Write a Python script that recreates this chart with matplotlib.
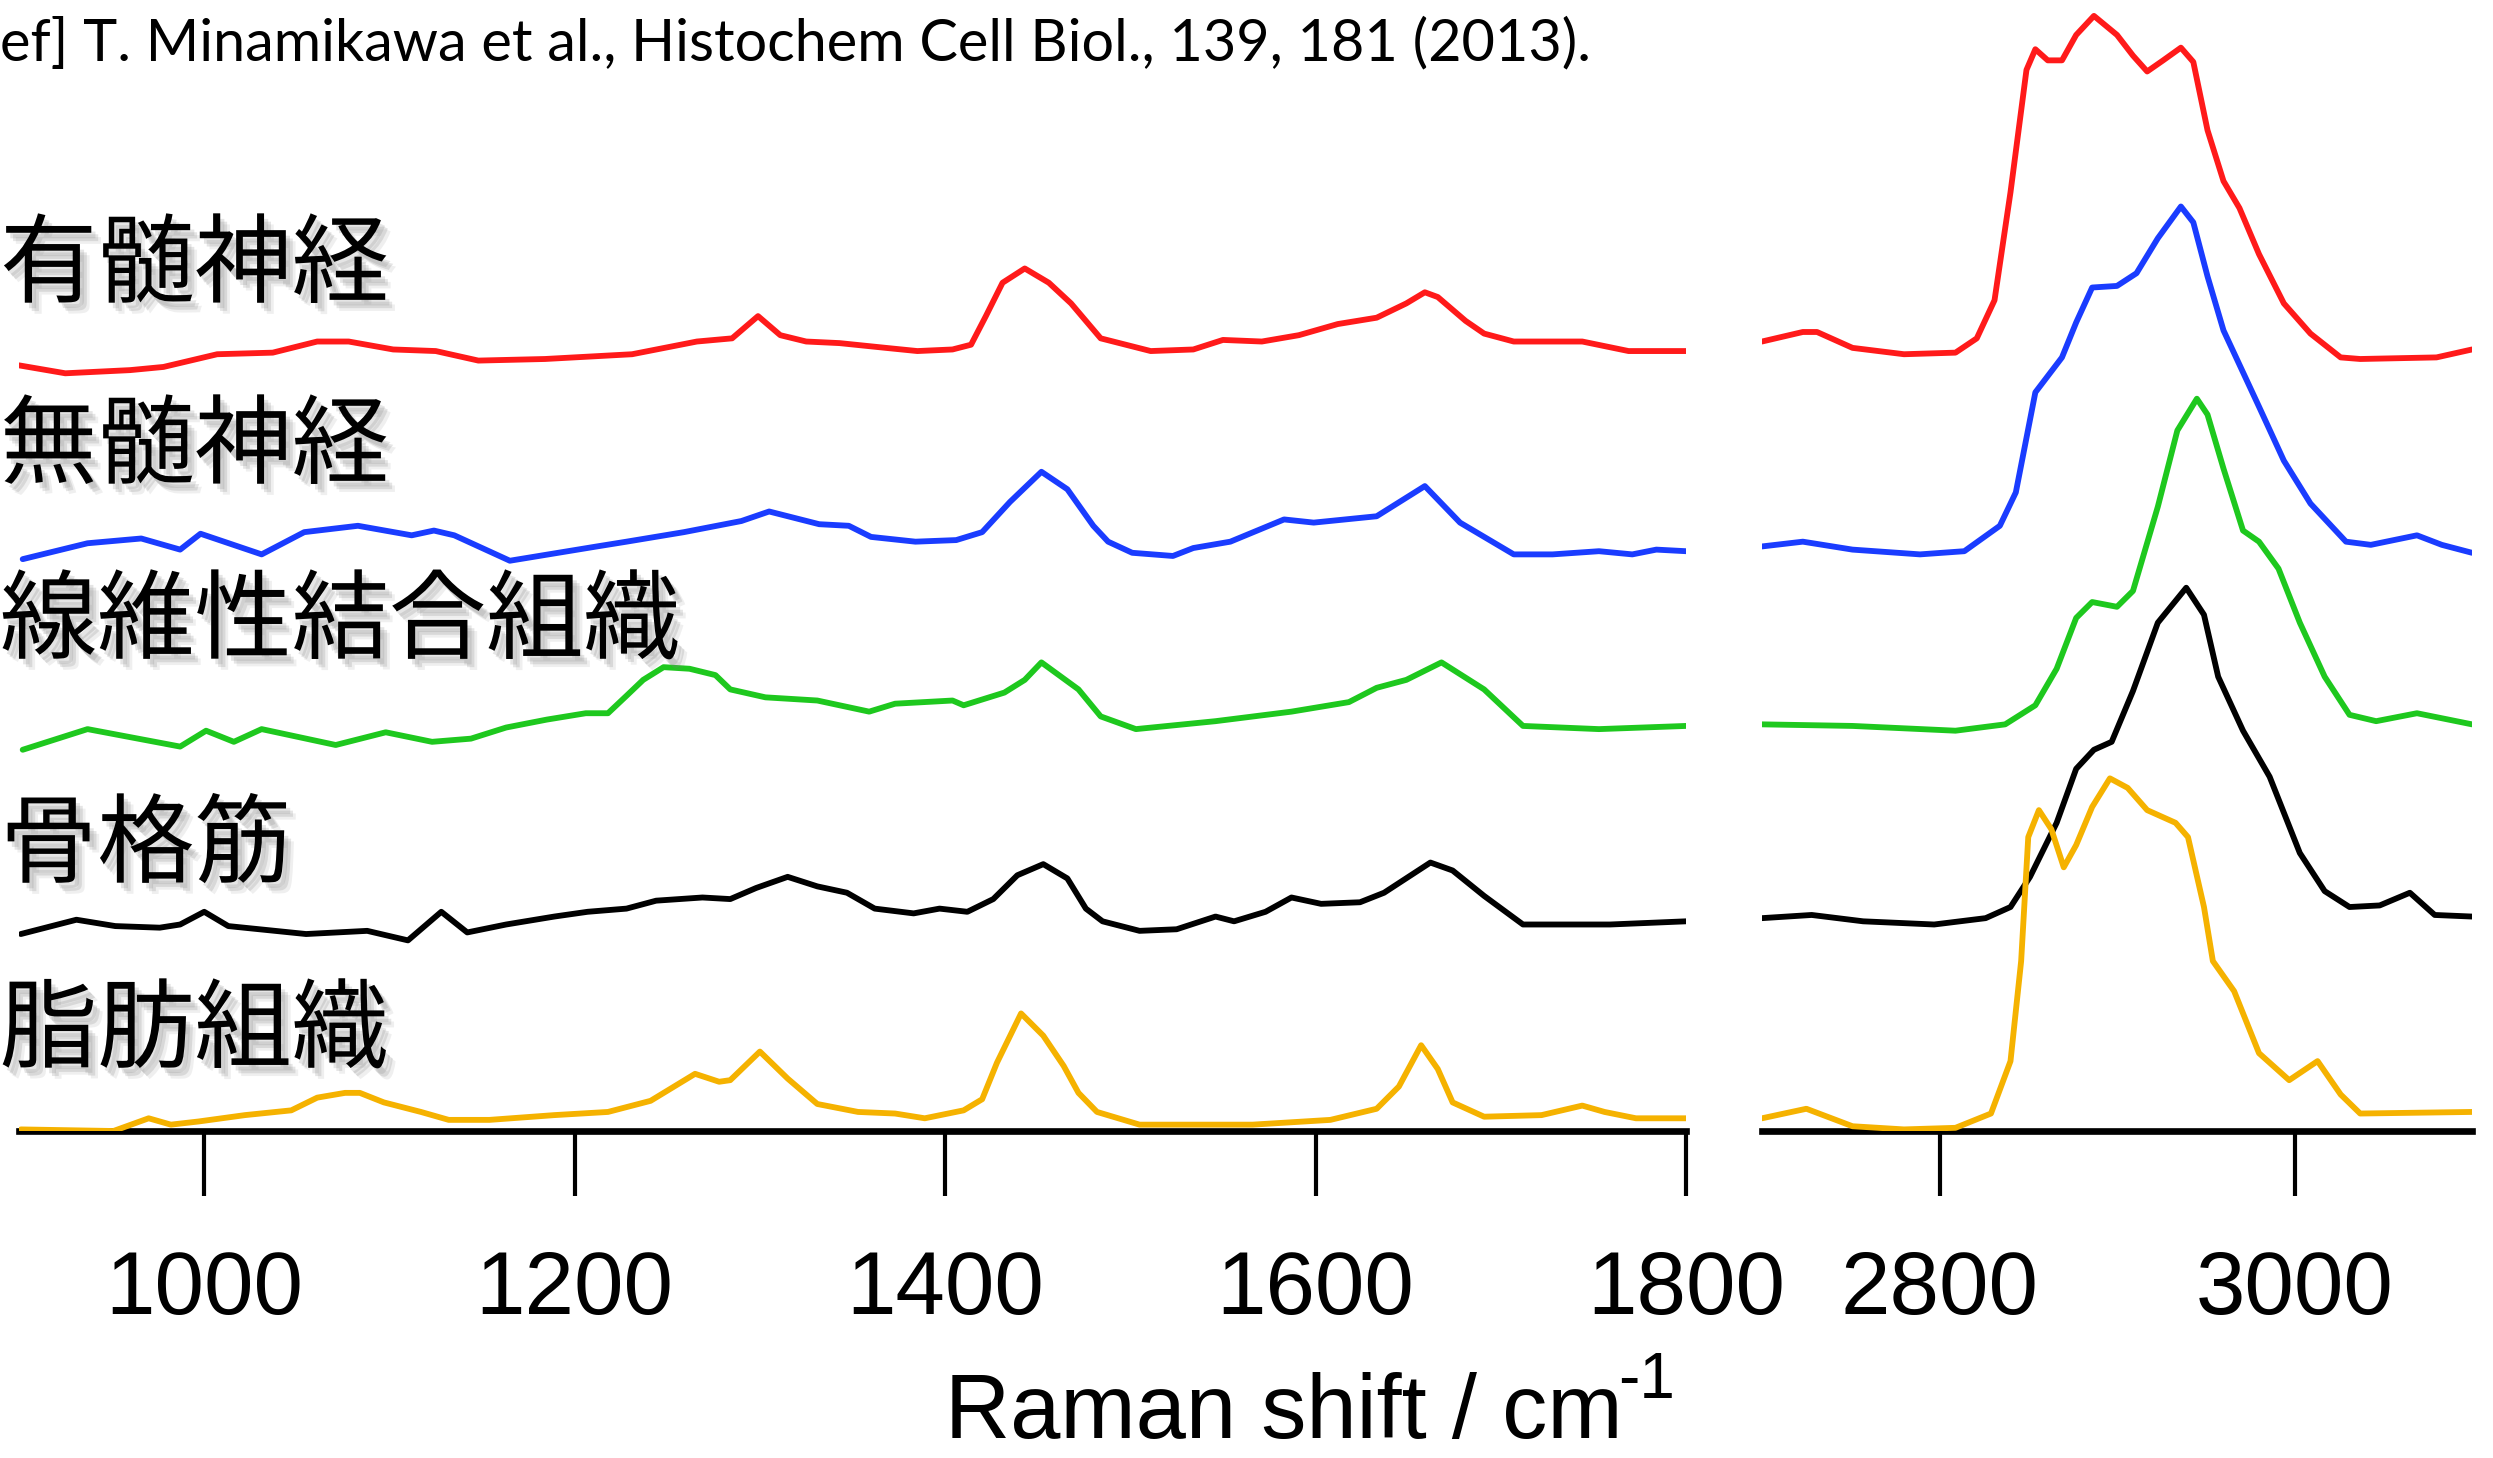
import matplotlib
matplotlib.use("Agg")
import matplotlib.pyplot as plt
import matplotlib.patheffects as pe

# labels / styling data
ref_text = "ef] T. Minamikawa et al., Histochem Cell Biol., 139, 181 (2013)."
names = ["有髄神経", "無髄神経", "線維性結合組織", "骨格筋", "脂肪組織"]
colors = ["#ff1a1a", "#1a3cff", "#1ec81e", "#000000", "#f5b200"]
offsets = [490, 362, 252, 130, 1]
fp_ticks = [1000, 1200, 1400, 1600, 1800]
ch_ticks = [2800, 3000]

# fingerprint region, 900 - 1800 cm-1
red_fp_x = [900, 925, 960, 978, 1007, 1037, 1061, 1078, 1102, 1125, 1148, 1184, 1231, 1266, 1285,
            1299, 1311, 1325, 1343, 1368, 1385, 1404, 1414, 1422, 1431, 1443, 1456, 1468, 1484, 1511,
            1534, 1550, 1571, 1591, 1612, 1633, 1649, 1659, 1666, 1681, 1691, 1707, 1744, 1769, 1800]
red_fp_y = [-8, -13, -11, -9, -1, 0, 7, 7, 2, 1, -5, -4, -1, 7, 9,
            23, 11, 7, 6, 3, 1, 2, 5, 23, 44, 53, 44, 31, 9, 1,
            2, 8, 7, 11, 18, 22, 31, 38, 35, 20, 12, 7, 7, 1, 1]

blue_fp_x = [902, 937, 966, 987, 998, 1031, 1054, 1083, 1112, 1124, 1135, 1165, 1212, 1228, 1259,
             1290, 1305, 1332, 1348, 1360, 1384, 1406, 1420, 1435, 1452, 1466, 1480, 1488, 1501, 1523,
             1534, 1554, 1583, 1599, 1633, 1659, 1678, 1707, 1728, 1753, 1771, 1784, 1800]
blue_fp_y = [-2, 8, 11, 4, 14, 1, 15, 19, 13, 16, 13, -3, 6, 9, 15,
             22, 28, 20, 19, 12, 9, 10, 15, 34, 53, 42, 19, 9, 2, 0,
             5, 9, 23, 21, 25, 44, 21, 1, 1, 3, 1, 4, 3]

green_fp_x = [902, 937, 987, 1001, 1016, 1031, 1071, 1098, 1123, 1144, 1163, 1185, 1206, 1218, 1228,
              1237, 1248, 1262, 1276, 1284, 1303, 1331, 1359, 1373, 1404, 1410, 1432, 1443, 1452, 1472,
              1484, 1503, 1546, 1587, 1618, 1633, 1649, 1668, 1691, 1712, 1753, 1800]
green_fp_y = [-12, 1, -10, 0, -7, 1, -9, -1, -7, -5, 2, 7, 11, 11, 22,
              32, 40, 39, 35, 26, 21, 19, 12, 17, 19, 16, 24, 32, 43, 26,
              9, 1, 6, 12, 18, 27, 32, 43, 26, 3, 1, 3]

black_fp_x = [901, 931, 952, 976, 987, 1000, 1013, 1055, 1088, 1110, 1128, 1142, 1163, 1189, 1207,
              1228, 1244, 1269, 1284, 1298, 1315, 1331, 1347, 1362, 1383, 1397, 1412, 1426, 1439, 1453,
              1466, 1476, 1485, 1505, 1525, 1546, 1556, 1573, 1587, 1603, 1624, 1637, 1662, 1674, 1691,
              1712, 1759, 1800]
black_fp_y = [-6, 3, -1, -2, 0, 8, -1, -6, -4, -10, 8, -5, 0, 5, 8,
              10, 15, 17, 16, 23, 30, 24, 20, 10, 7, 10, 8, 16, 31, 38,
              29, 10, 2, -4, -3, 5, 2, 8, 17, 13, 14, 20, 39, 34, 18,
              0, 0, 2]

orange_fp_x = [901, 951, 970, 982, 997, 1022, 1047, 1061, 1076, 1084, 1097, 1117, 1132, 1154, 1189,
               1218, 1241, 1265, 1278, 1284, 1300, 1315, 1331, 1353, 1373, 1389, 1410, 1420, 1428, 1441,
               1453, 1464, 1472, 1482, 1505, 1566, 1608, 1633, 1645, 1657, 1666, 1674, 1691, 1722, 1744,
               1756, 1773, 1800]
orange_fp_y = [0, -1, 7, 3, 5, 9, 12, 20, 23, 23, 17, 11, 6, 6, 9,
               11, 18, 35, 30, 31, 49, 32, 16, 11, 10, 7, 12, 19, 42, 73,
               59, 40, 23, 11, 3, 3, 6, 13, 27, 53, 38, 17, 8, 9, 15,
               11, 7, 7]

# CH stretching region, 2700 - 3100 cm-1
red_ch_x = [2700, 2723, 2731, 2751, 2780, 2809, 2821, 2831, 2840, 2849, 2854, 2861, 2869, 2877, 2887,
            2900, 2909, 2917, 2926, 2936, 2943, 2951, 2960, 2969, 2980, 2994, 3009, 3026, 3037, 3080, 3100]
red_ch_y = [7, 13, 13, 3, -1, 0, 9, 33, 101, 178, 191, 184, 184, 200, 212,
            200, 187, 177, 184, 192, 183, 140, 108, 91, 62, 31, 12, -3, -4, -3, 2]

blue_ch_x = [2700, 2723, 2751, 2789, 2814, 2834, 2843, 2854, 2869, 2877, 2886, 2900, 2911, 2923, 2936,
             2943, 2951, 2960, 2980, 2994, 3009, 3029, 3043, 3069, 3083, 3100]
blue_ch_y = [6, 9, 4, 1, 3, 19, 40, 103, 125, 147, 169, 170, 178, 200, 220,
             210, 176, 142, 94, 60, 33, 9, 7, 13, 7, 2]

green_ch_x = [2700, 2751, 2809, 2837, 2854, 2866, 2877, 2886, 2900, 2909, 2923, 2934, 2945, 2951, 2960,
              2971, 2980, 2991, 3003, 3017, 3031, 3046, 3069, 3100]
green_ch_y = [4, 3, 0, 4, 16, 39, 71, 81, 78, 88, 141, 189, 209, 199, 165,
              126, 119, 102, 68, 34, 10, 6, 11, 4]

black_ch_x = [2700, 2728, 2757, 2797, 2826, 2840, 2851, 2866, 2877, 2887, 2897, 2909, 2923, 2939, 2949,
              2957, 2971, 2986, 3003, 3017, 3031, 3048, 3065, 3079, 3100]
black_ch_y = [4, 6, 2, 0, 4, 11, 30, 64, 98, 110, 115, 147, 190, 212, 195,
              156, 122, 93, 45, 21, 11, 12, 20, 6, 5]

orange_ch_x = [2700, 2725, 2751, 2780, 2809, 2829, 2840, 2846, 2850, 2856, 2863, 2870, 2877, 2886, 2896,
               2906, 2917, 2933, 2940, 2949, 2954, 2966, 2980, 2997, 3013, 3026, 3037, 3100]
orange_ch_y = [7, 13, 2, 0, 1, 10, 43, 106, 184, 201, 189, 165, 179, 203, 221,
               215, 201, 193, 184, 140, 106, 87, 48, 31, 43, 22, 10, 11]

fp_x = [red_fp_x, blue_fp_x, green_fp_x, black_fp_x, orange_fp_x]
fp_y = [red_fp_y, blue_fp_y, green_fp_y, black_fp_y, orange_fp_y]
ch_x = [red_ch_x, blue_ch_x, green_ch_x, black_ch_x, orange_ch_x]
ch_y = [red_ch_y, blue_ch_y, green_ch_y, black_ch_y, orange_ch_y]

W, H = 2493, 1458
fig = plt.figure(figsize=(W / 100, H / 100), dpi=100)

bottom = (H - 1131) / H
ax1 = fig.add_axes([19 / W, bottom, (1686 - 19) / W, 1131 / H])
ax2 = fig.add_axes([1762 / W, bottom, (2472 - 1762) / W, 1131 / H])

for ax, xs, ys, lim, ticks in [(ax1, fp_x, fp_y, (900, 1800), fp_ticks),
                               (ax2, ch_x, ch_y, (2700, 3100), ch_ticks)]:
    for x, y, off, c in zip(xs, ys, offsets, colors):
        ax.plot(x, [v + off for v in y], color=c, lw=4.2,
                solid_joinstyle="round", solid_capstyle="round")
    ax.set_xlim(*lim)
    ax.set_ylim(0, 712)
    ax.set_xticks(ticks)
    ax.set_yticks([])
    ax.patch.set_visible(False)
    for s in ["left", "right", "top"]:
        ax.spines[s].set_visible(False)
    ax.spines["bottom"].set_linewidth(4.8)
    ax.spines["bottom"].set_zorder(1)
    ax.tick_params(axis="x", direction="out", length=47, width=3.0, pad=38,
                   labelsize=64)
    for lab in ax.get_xticklabels():
        lab.set_fontfamily("Liberation Sans")

# axis title, superscript drawn as its own text like the original
fig.text(945 / W, 20 / H, "Raman shift / cm", fontsize=65, family="Liberation Sans",
         ha="left", va="baseline")
fig.text(1618 / W, (H - 1398) / H, "-1", fontsize=46, family="Liberation Sans",
         ha="left", va="baseline")

# reference line at the top
fig.text(0, (H - 60) / H, ref_text, fontsize=41.5, family="Lato", ha="left", va="baseline")

# tissue names with drop shadow
shadow = [pe.SimplePatchShadow(offset=(3, -4), shadow_rgbFace="0.5", alpha=0.2),
          pe.SimplePatchShadow(offset=(5, -6), shadow_rgbFace="0.5", alpha=0.2),
          pe.SimplePatchShadow(offset=(7, -8), shadow_rgbFace="0.5", alpha=0.12),
          pe.Normal()]
baselines = [295, 476, 651, 875, 1060]
for name, b in zip(names, baselines):
    fig.text(0, (H - b) / H, name, fontsize=70, family=["Noto Sans CJK JP", "DejaVu Sans"],
             ha="left", va="baseline", path_effects=shadow)

fig.savefig("out.png", dpi=100)
